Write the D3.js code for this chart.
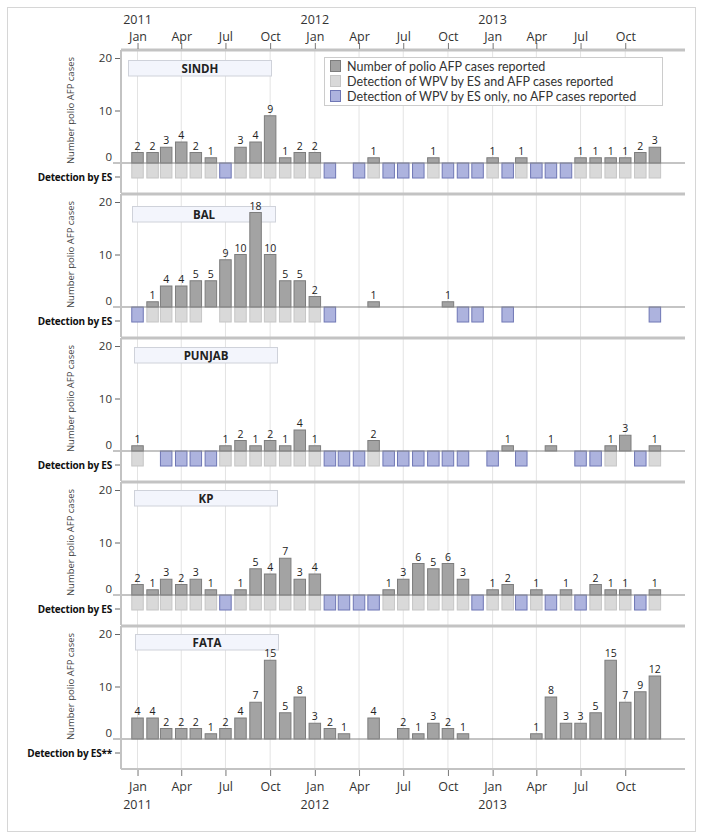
<!DOCTYPE html>
<html>
<head>
<meta charset="utf-8">
<script src="https://cdn.jsdelivr.net/npm/d3@7"></script>
<style>
  html, body { margin: 0; padding: 0; background: #fff; }
  svg { display: block; }
  text { font-family: "Open Sans", "Noto Sans", sans-serif; }
</style>
</head>
<body>
<svg id="chart" width="706" height="840"></svg>
<script>
// ---------- DATA ----------
const months = [
  "2011-01","2011-02","2011-03","2011-04","2011-05","2011-06","2011-07","2011-08","2011-09","2011-10","2011-11","2011-12",
  "2012-01","2012-02","2012-03","2012-04","2012-05","2012-06","2012-07","2012-08","2012-09","2012-10","2012-11","2012-12",
  "2013-01","2013-02","2013-03","2013-04","2013-05","2013-06","2013-07","2013-08","2013-09","2013-10","2013-11","2013-12"
];
const regions = ["SINDH", "BAL", "PUNJAB", "KP", "FATA"];

// AFP case counts per month
const sindhCases  = [2,2,3,4,2,1,0,3,4,9,1,2, 2,0,0,0,1,0,0,0,1,0,0,0, 1,0,1,0,0,0,1,1,1,1,2,3];
const balCases    = [0,1,4,4,5,5,9,10,18,10,5,5, 2,0,0,0,1,0,0,0,0,1,0,0, 0,0,0,0,0,0,0,0,0,0,0,0];
const punjabCases = [1,0,0,0,0,0,1,2,1,2,1,4, 1,0,0,0,2,0,0,0,0,0,0,0, 0,1,0,0,1,0,0,0,1,3,0,1];
const kpCases     = [2,1,3,2,3,1,0,1,5,4,7,3, 4,0,0,0,0,1,3,6,5,6,3,0, 1,2,0,1,0,1,0,2,1,1,0,1];
const fataCases   = [4,4,2,2,2,1,2,4,7,15,5,8, 3,2,1,0,4,0,2,1,3,2,1,0, 0,0,0,1,8,3,3,5,15,7,9,12];

// Environmental sampling detection: g = WPV by ES and AFP cases, b = ES only, . = none
const sindhES  = "ggggggbggggg" + "gb.bgbbbgbbb" + "gbgbbbgggggg";
const balES    = "bgggg.gggggg" + "gb........bb" + ".b.........b";
const punjabES = "g.bbbbgggggg" + "gbbbgbbbbbb." + "b.b...bbg.bg";
const kpES     = "ggggggbggggg" + "gbbbbggggggb" + "ggbgbgbgggbg";
const fataES   = "............" + "............" + "............";

const esLabels = ["Detection by ES", "Detection by ES", "Detection by ES", "Detection by ES", "Detection by ES**"];
const legendLabels = [
  "Number of polio AFP cases reported",
  "Detection of WPV by ES and AFP cases reported",
  "Detection of WPV by ES only, no AFP cases reported"
];
const yTicks = [0, 10, 20];
const monthNames = ["Jan","Feb","Mar","Apr","May","Jun","Jul","Aug","Sep","Oct","Nov","Dec"];
const quarterTicks = [
  "2011-01","2011-04","2011-07","2011-10","2012-01","2012-04","2012-07","2012-10","2013-01","2013-04","2013-07","2013-10"
];

// ---------- STYLE ----------
const COL_BAR = "#a3a3a3", COL_BAR_STROKE = "#7d7d7d";
const COL_G = "#d9d9d9", COL_G_STROKE = "#c6c6c6";
const COL_B = "#adb3de", COL_B_STROKE = "#6f77b5";
const TXT = "#333";
const ES_DEPTH = 2.86;   // depth of ES boxes in data units

const parse = d3.timeParse("%Y-%m");
const dates = months.map(parse);
const caseSeries = [sindhCases, balCases, punjabCases, kpCases, fataCases];
const esSeries = [sindhES, balES, punjabES, kpES, fataES];

const svg = d3.select("#chart");

// outer frame
svg.append("rect").attr("x", 7.5).attr("y", 7.5).attr("width", 688).attr("height", 824)
  .attr("fill", "none").attr("stroke", "#d6d6d6").attr("stroke-width", 1);

const left = 121, right = 685;
const x = d3.scaleTime()
  .domain([new Date(2010, 10, 28), new Date(2014, 1, 1)])
  .range([left, right]);
const barW = 11.5;
const qDates = quarterTicks.map(parse);
const fmtMonth = d => monthNames[d.getMonth()];

const panelTop0 = 50, panelStep = 144, panelH = 143;
const labelBoxY = [10, 12, 9, 8, 8];
const labelBoxX = [128, 132, 134, 134, 135];

regions.forEach((name, i) => {
  const T = panelTop0 + panelStep * i;
  const y = d3.scaleLinear().domain([0, 20]).range([T + 113, T + 8]);
  const g = svg.append("g");

  // gridlines
  g.selectAll("line.grid").data(qDates).enter().append("line")
    .attr("x1", d => x(d)).attr("x2", d => x(d))
    .attr("y1", T).attr("y2", T + panelH)
    .attr("stroke", "#e3e3e3").attr("stroke-width", 1);

  // region label box (behind bars)
  g.append("rect").attr("x", labelBoxX[i] + 0.5).attr("y", T + labelBoxY[i] + 0.5)
    .attr("width", 143).attr("height", 15.5)
    .attr("fill", "#f3f5fc").attr("stroke", "#cfd2da");
  g.append("text").attr("x", labelBoxX[i] + 72).attr("y", T + labelBoxY[i] + 12.5)
    .attr("text-anchor", "middle").attr("font-size", 11.5).attr("font-weight", "bold")
    .attr("fill", "#222").text(name);

  // y axis ticks + labels
  const yAxis = d3.axisLeft(y).tickValues([10, 20]).tickSize(6).tickPadding(3)
    .tickFormat(d3.format("d"));
  const ya = g.append("g").attr("transform", `translate(${left},0)`).call(yAxis);
  ya.select(".domain").remove();
  ya.selectAll(".tick line").attr("stroke", "#666");
  ya.selectAll(".tick text").attr("font-size", 11.5).attr("fill", TXT)
    .style("font-family", "'Open Sans', sans-serif");

  // zero label (placed above the zero line)
  g.append("text").attr("x", left - 9).attr("y", y(0) - 2).attr("text-anchor", "end")
    .attr("font-size", 11.5).attr("fill", TXT).text(yTicks[0]);

  // ES tick + label
  const esY = y(-ES_DEPTH) - 1;
  g.append("line").attr("x1", left - 6).attr("x2", left).attr("y1", esY).attr("y2", esY)
    .attr("stroke", "#666");
  g.append("text").attr("x", left - 9).attr("y", esY + 3.5).attr("text-anchor", "end")
    .attr("font-size", 10).attr("font-weight", "bold").attr("fill", "#111")
    .attr("letter-spacing", -0.2)
    .text(esLabels[i]);

  // y title
  g.append("text")
    .attr("transform", `translate(74,${y(10)}) rotate(-90)`)
    .attr("text-anchor", "middle").attr("font-size", 9.5).attr("fill", "#444")
    .text("Number polio AFP cases");

  // ES boxes
  const esData = dates.map((d, k) => ({ d, v: esSeries[i][k] })).filter(o => o.v !== ".");
  g.selectAll("rect.es").data(esData).enter().append("rect")
    .attr("x", o => x(o.d) - barW / 2).attr("width", barW)
    .attr("y", y(0)).attr("height", y(-ES_DEPTH) - y(0))
    .attr("fill", o => o.v === "g" ? COL_G : COL_B)
    .attr("stroke", o => o.v === "g" ? COL_G_STROKE : COL_B_STROKE)
    .attr("stroke-width", 1);

  // case bars
  const barData = dates.map((d, k) => ({ d, v: caseSeries[i][k] })).filter(o => o.v > 0);
  g.selectAll("rect.bar").data(barData).enter().append("rect")
    .attr("x", o => x(o.d) - barW / 2).attr("width", barW)
    .attr("y", o => y(o.v)).attr("height", o => y(0) - y(o.v))
    .attr("fill", COL_BAR).attr("stroke", COL_BAR_STROKE).attr("stroke-width", 1);
  g.selectAll("text.val").data(barData).enter().append("text")
    .attr("x", o => x(o.d)).attr("y", o => y(o.v) - 3)
    .attr("text-anchor", "middle").attr("font-size", 10.5).attr("fill", "#222")
    .text(o => o.v);

  // zero line
  g.append("line").attr("x1", left - 8).attr("x2", right).attr("y1", y(0)).attr("y2", y(0))
    .attr("stroke", "#8a8a8a").attr("stroke-width", 1.2);

  // frame: top thick line + left axis line
  g.append("line").attr("x1", left).attr("x2", right).attr("y1", T).attr("y2", T)
    .attr("stroke", "#c3c3c3").attr("stroke-width", 3);
  g.append("line").attr("x1", left).attr("x2", left).attr("y1", T).attr("y2", T + panelH)
    .attr("stroke", "#c3c3c3").attr("stroke-width", 2);

  // legend in first panel
  if (i === 0) {
    const lg = g.append("g");
    lg.append("rect").attr("x", 324.5).attr("y", 57.5).attr("width", 338).attr("height", 48)
      .attr("fill", "#fff").attr("stroke", "#cccccc");
    const fills = [[COL_BAR, COL_BAR_STROKE], [COL_G, COL_G_STROKE], [COL_B, COL_B_STROKE]];
    legendLabels.forEach((lab, k) => {
      const cy = 66 + k * 15;
      lg.append("rect").attr("x", 330.5).attr("y", cy - 5.5).attr("width", 10).attr("height", 11)
        .attr("fill", fills[k][0]).attr("stroke", fills[k][1]);
      lg.append("text").attr("x", 347).attr("y", cy + 4.5).attr("font-size", 12.5)
        .style("font-family", "Lato, 'Open Sans', sans-serif")
        .attr("fill", TXT).text(lab);
    });
  }
});

// bottom axis line of last panel
const bottomY = panelTop0 + panelStep * 4 + panelH;
svg.append("line").attr("x1", left).attr("x2", right).attr("y1", bottomY).attr("y2", bottomY)
  .attr("stroke", "#c3c3c3").attr("stroke-width", 2);

// top axis
const topAxis = d3.axisTop(x).tickValues(qDates).tickSize(6).tickPadding(2).tickFormat(fmtMonth);
const ta = svg.append("g").attr("transform", `translate(0,${panelTop0 - 1})`).call(topAxis);
ta.select(".domain").remove();
ta.selectAll(".tick line").attr("stroke", "#777");
ta.selectAll(".tick text").attr("font-size", 12.5).attr("fill", TXT)
  .style("font-family", "'Open Sans', sans-serif");
svg.selectAll("text.topyear").data(qDates.filter(d => d.getMonth() === 0)).enter().append("text")
  .attr("x", d => x(d)).attr("y", 24).attr("text-anchor", "middle").attr("font-size", 12.5)
  .attr("fill", TXT).text(d => d.getFullYear());

// bottom axis
const botAxis = d3.axisBottom(x).tickValues(qDates).tickSize(6).tickPadding(6).tickFormat(fmtMonth);
const ba = svg.append("g").attr("transform", `translate(0,${bottomY + 1})`).call(botAxis);
ba.select(".domain").remove();
ba.selectAll(".tick line").attr("stroke", "#777");
ba.selectAll(".tick text").attr("font-size", 12.5).attr("fill", TXT)
  .style("font-family", "'Open Sans', sans-serif");
svg.selectAll("text.botyear").data(qDates.filter(d => d.getMonth() === 0)).enter().append("text")
  .attr("x", d => x(d)).attr("y", 809).attr("text-anchor", "middle").attr("font-size", 12.5)
  .attr("fill", TXT).text(d => d.getFullYear());
</script>
</body>
</html>
